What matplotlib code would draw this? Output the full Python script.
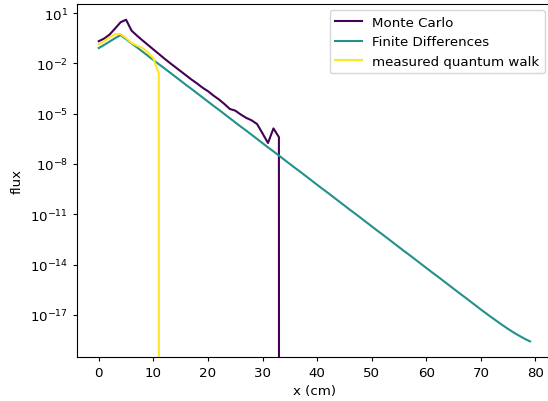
import numpy as np
import matplotlib
matplotlib.use("Agg")
import matplotlib.pyplot as plt

# x positions (cm)
x = list(range(80))

# log10 of flux
mc_log = [-0.68, -0.52, -0.28, 0.08, 0.45, 0.60, -0.05, -0.35, -0.63, -0.90,
          -1.17, -1.44, -1.71, -1.97, -2.22, -2.47, -2.72, -2.97, -3.20, -3.45,
          -3.66, -3.92, -4.15, -4.42, -4.72, -4.82, -5.05, -5.25, -5.40, -5.62,
          -6.18, -6.75, -5.88, -6.40]
fd_log = [-1.09, -0.90, -0.70, -0.50, -0.31, -0.56, -0.81, -1.05, -1.30, -1.55,
          -1.80, -2.05, -2.29, -2.54, -2.79, -3.04, -3.29, -3.53, -3.78, -4.03,
          -4.28, -4.53, -4.77, -5.02, -5.27, -5.52, -5.77, -6.01, -6.26, -6.51,
          -6.76, -7.01, -7.25, -7.50, -7.75, -8.00, -8.25, -8.49, -8.74, -8.99,
          -9.24, -9.49, -9.73, -9.98, -10.23, -10.48, -10.73, -10.97, -11.22, -11.47,
          -11.72, -11.97, -12.21, -12.46, -12.71, -12.96, -13.21, -13.45, -13.70, -13.95,
          -14.20, -14.45, -14.69, -14.94, -15.19, -15.44, -15.69, -15.93, -16.18, -16.43,
          -16.68, -16.92, -17.16, -17.39, -17.62, -17.84, -18.05, -18.24, -18.42, -18.58]
qw_log = [-0.87, -0.68, -0.45, -0.27, -0.25, -0.50, -0.78, -0.95, -1.08, -1.35,
          -1.70, -2.60]

mc = np.zeros(len(x))
mc[:len(mc_log)] = 10.0 ** np.array(mc_log)
fd = 10.0 ** np.array(fd_log)
qw = np.zeros(len(x))
qw[:len(qw_log)] = 10.0 ** np.array(qw_log)

fs = 9.6
lw = 1.5
fig = plt.figure(figsize=(5.48, 4.02), dpi=100)
ax = fig.add_axes([77.2 / 548, 1 - 357.5 / 402, 474.4 / 548, 352.8 / 402])
ax.set_yscale("log")
ax.plot(x, mc, color="#440154", lw=lw, label="Monte Carlo")
ax.plot(x, fd, color="#21918c", lw=lw, label="Finite Differences")
ax.plot(x, qw, color="#fde725", lw=lw, label="measured quantum walk")
ax.set_xlim(-3.95, 82.95)
ax.set_ylim(10 ** -19.48, 10 ** 1.555)
ax.set_xticks([0, 10, 20, 30, 40, 50, 60, 70, 80])
ax.set_yticks([10.0 ** k for k in [1, -2, -5, -8, -11, -14, -17]])
ax.yaxis.set_minor_locator(matplotlib.ticker.NullLocator())
ax.tick_params(labelsize=fs, length=3.2, width=0.8)
for s in ax.spines.values():
    s.set_linewidth(0.8)
ax.set_xlabel("x (cm)", fontsize=fs)
ax.set_ylabel("flux", fontsize=fs)
ax.legend(loc="upper right", fontsize=fs)
fig.savefig("out.png", dpi=100)
